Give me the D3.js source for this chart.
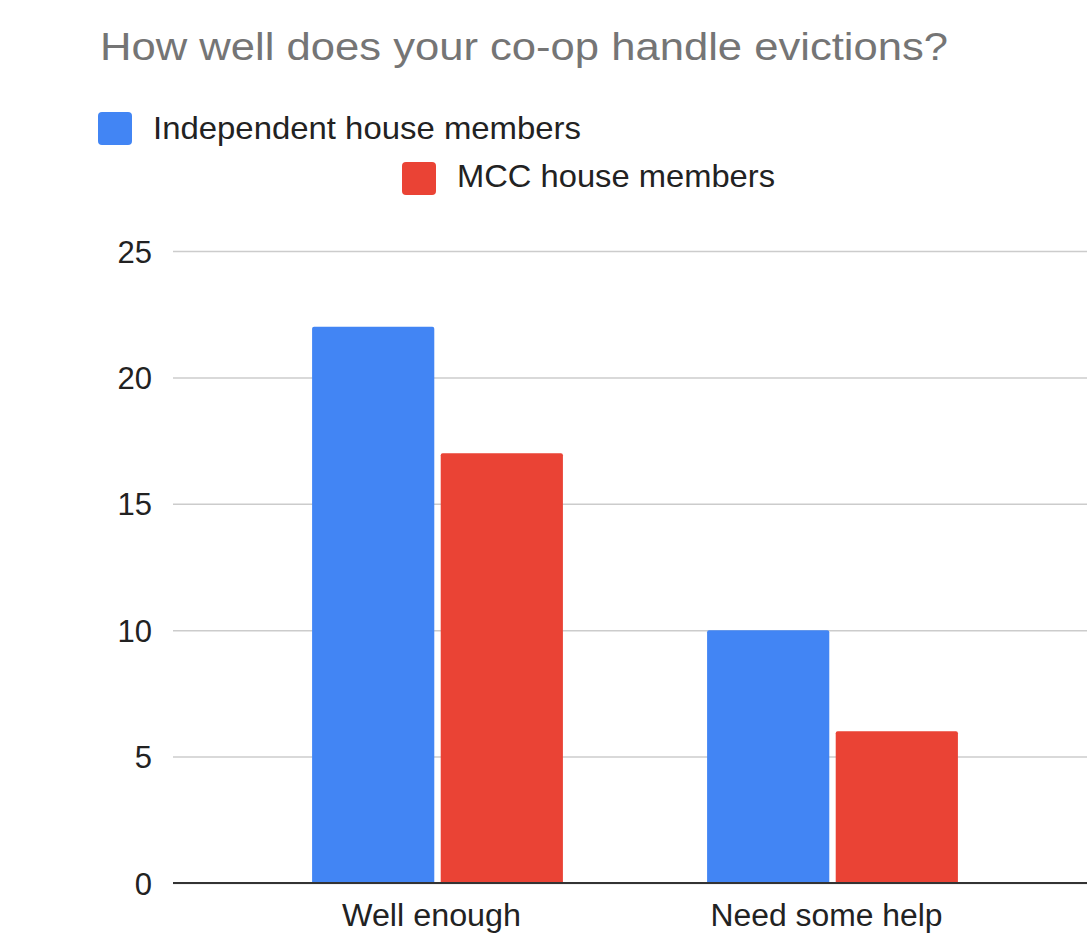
<!DOCTYPE html>
<html>
<head>
<meta charset="utf-8">
<script src="https://cdn.jsdelivr.net/npm/d3@7"></script>
<style>
  html, body { margin: 0; padding: 0; background: #fff; }
  svg { display: block; font-family: "Liberation Sans", Arial, sans-serif; }
</style>
</head>
<body>
<svg id="chart" width="1087" height="934"></svg>
<script>
// Survey responses: how well each co-op handles evictions
const categories = ["Well enough", "Need some help"];
const seriesNames = ["Independent house members", "MCC house members"];
const independentValues = [22, 10];
const mccValues = [17, 6];
const yTicks = [0, 5, 10, 15, 20, 25];
const titleText = "How well does your co-op handle evictions?";

const seriesColors = ["#4285f4", "#ea4335"];
const seriesValues = [independentValues, mccValues];

const rows = categories.map((c, i) => ({
  category: c,
  values: seriesNames.map((s, j) => ({ series: s, value: seriesValues[j][i], idx: j }))
}));

const svg = d3.select("#chart");

// Plot geometry
const plotLeft = 173, plotRight = 1087;
const y = d3.scaleLinear().domain([0, 25]).range([883, 251]);

const x0 = d3.scaleBand()
  .domain(categories)
  .range([240, 1030])
  .paddingInner(0.365)
  .paddingOuter(0.1825);

const x1 = d3.scaleBand()
  .domain(seriesNames)
  .range([0, x0.bandwidth()])
  .paddingInner(0.05);

// Title
svg.append("text")
  .attr("x", 100)
  .attr("y", 60)
  .attr("fill", "#757575")
  .attr("font-size", 38)
  .attr("textLength", 848)
  .attr("lengthAdjust", "spacingAndGlyphs")
  .text(titleText);

// Legend (two rows, second one offset to the right)
const legendItems = [
  { name: seriesNames[0], color: seriesColors[0], sx: 98, sy: 112, tx: 153, ty: 139, w: 428 },
  { name: seriesNames[1], color: seriesColors[1], sx: 402, sy: 162, tx: 457, ty: 187, w: 318 }
];
const legend = svg.append("g").attr("class", "legend");
legendItems.forEach(it => {
  legend.append("rect")
    .attr("x", it.sx).attr("y", it.sy)
    .attr("width", 34).attr("height", 33)
    .attr("rx", 4).attr("ry", 4)
    .attr("fill", it.color);
  legend.append("text")
    .attr("x", it.tx).attr("y", it.ty)
    .attr("fill", "#222")
    .attr("font-size", 32)
    .attr("textLength", it.w)
    .attr("lengthAdjust", "spacingAndGlyphs")
    .text(it.name);
});

// Gridlines
const yAxis = d3.axisLeft(y)
  .tickValues(yTicks)
  .tickSize(-(plotRight - plotLeft))
  .tickPadding(21)
  .tickFormat(d3.format("d"));

const gy = svg.append("g")
  .attr("transform", `translate(${plotLeft},0)`)
  .call(yAxis);
gy.select(".domain").remove();
gy.selectAll(".tick line")
  .attr("stroke", "#cccccc")
  .attr("stroke-width", 1.5);
gy.selectAll(".tick text")
  .attr("fill", "#222")
  .attr("font-size", 31)
  .attr("font-family", "'Liberation Sans', Arial, sans-serif")
  .attr("dy", "0.36em");

// Bars
const barGroups = svg.append("g").selectAll("g")
  .data(rows)
  .join("g")
  .attr("transform", d => `translate(${x0(d.category)},0)`);

const r = 2;
barGroups.selectAll("path")
  .data(d => d.values)
  .join("path")
  .attr("fill", d => seriesColors[d.idx])
  .attr("d", d => {
    const bx = x1(d.series), bw = x1.bandwidth();
    const top = y(d.value), base = y(0);
    return `M${bx},${base} V${top + r} Q${bx},${top} ${bx + r},${top} H${bx + bw - r} Q${bx + bw},${top} ${bx + bw},${top + r} V${base} Z`;
  });

// Baseline at zero
svg.append("line")
  .attr("x1", plotLeft).attr("x2", plotRight)
  .attr("y1", y(0)).attr("y2", y(0))
  .attr("stroke", "#333")
  .attr("stroke-width", 2);

// Category labels
const catWidths = { "Well enough": 179, "Need some help": 232 };
svg.append("g").selectAll("text")
  .data(categories)
  .join("text")
  .attr("x", d => x0(d) + x0.bandwidth() / 2 - 6)
  .attr("y", 926)
  .attr("text-anchor", "middle")
  .attr("fill", "#222")
  .attr("font-size", 31)
  .attr("textLength", d => catWidths[d])
  .attr("lengthAdjust", "spacingAndGlyphs")
  .text(d => d);
</script>
</body>
</html>
